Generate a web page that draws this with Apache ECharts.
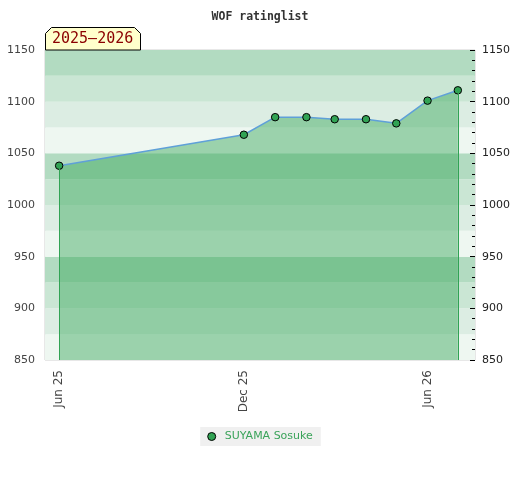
<!DOCTYPE html>
<html>
<head>
<meta charset="utf-8">
<script src="https://cdn.jsdelivr.net/npm/echarts@6/dist/echarts.min.js"></script>
<style>
    html, body { margin: 0; padding: 0; background: #fff; }
    #chart { width: 520px; height: 480px; }
</style>
</head>
<body>
<div id="chart"></div>
<script>
// rating history, one point per month
const dates = ['2025-06-01', '2025-12-01', '2026-01-01', '2026-02-01', '2026-03-01',
    '2026-04-01', '2026-05-01', '2026-06-01', '2026-07-01'];
const ratings = [1038, 1068, 1085, 1085, 1083, 1083, 1079, 1101, 1111];
const playerName = 'SUYAMA Sosuke';
const seasonTag = '2025–2026';

const yMin = 850;
const yMax = 1150;
const xMin = '2025-05-18';
const xMax = '2026-07-18';
const xLabelDates = ['2025-06-01', '2025-12-01', '2026-06-01'];
const bandColors = ['#eef7f1', '#dcede3', '#cae6d4', '#b2dbc1'];

const months = ['Jan', 'Feb', 'Mar', 'Apr', 'May', 'Jun', 'Jul', 'Aug', 'Sep', 'Oct', 'Nov', 'Dec'];

function toTime(s) {
    const p = s.split('-');
    return new Date(+p[0], +p[1] - 1, +p[2]).getTime();
}

const green = '#31a354';
const seriesData = dates.map((d, i) => [toTime(d), ratings[i]]);
const first = seriesData[0];
const last = seriesData[seriesData.length - 1];

const chart = echarts.init(document.getElementById('chart'));

const plainNumber = v => String(v);

const option = {
    animation: false,
    backgroundColor: '#fff',
    title: {
        text: 'WOF ratinglist',
        left: 'center',
        top: 6,
        textStyle: {
            fontFamily: 'DejaVu Sans Mono',
            fontSize: 11.5,
            fontWeight: 'bold',
            color: '#333'
        }
    },
    grid: {
        left: 45,
        right: 45,
        top: 50,
        bottom: 120,
        show: true,
        backgroundColor: 'transparent',
        borderColor: '#d0d0d0',
        borderWidth: 1
    },
    legend: {
        left: 'center',
        top: 427,
        icon: 'circle',
        itemWidth: 8,
        itemHeight: 8,
        backgroundColor: '#f0f0f0',
        padding: [4, 8, 4, 7],
        itemStyle: { color: green, borderColor: '#000', borderWidth: 1 },
        textStyle: {
            color: '#3aa35a',
            fontFamily: 'DejaVu Sans',
            fontSize: 11,
            padding: [0, 0, 0, 4]
        },
        data: [playerName]
    },
    xAxis: {
        // timestamps on a plain value axis so the three labels can be placed by date
        type: 'value',
        min: toTime(xMin),
        max: toTime(xMax),
        axisLine: { show: false },
        axisTick: { show: false },
        splitLine: { show: false },
        axisLabel: {
            customValues: xLabelDates.map(toTime),
            rotate: 90,
            margin: 10,
            color: '#444',
            fontFamily: 'DejaVu Sans',
            fontSize: 12,
            formatter: function (v) {
                const d = new Date(v);
                return months[d.getMonth()] + ' ' + String(d.getFullYear()).slice(2);
            }
        }
    },
    yAxis: [
        {
            type: 'value',
            position: 'left',
            min: yMin,
            max: yMax,
            interval: 50,
            axisLine: { show: false },
            axisTick: { show: false },
            splitLine: { show: false },
            axisLabel: {
                margin: 10,
                color: '#444',
                fontFamily: 'DejaVu Sans',
                fontSize: 11,
                formatter: plainNumber
            }
        },
        {
            type: 'value',
            position: 'right',
            min: yMin,
            max: yMax,
            interval: 50,
            axisLine: { show: false },
            axisTick: { show: true, inside: true, length: 5, lineStyle: { color: '#000' } },
            minorTick: { show: true, splitNumber: 5, length: 3, lineStyle: { color: '#000' } },
            splitLine: { show: false },
            minorSplitLine: { show: false },
            axisLabel: {
                margin: 7,
                color: '#222',
                fontFamily: 'DejaVu Sans',
                fontSize: 11,
                formatter: plainNumber
            }
        },
        {
            // only used for the 25-point background bands
            type: 'value',
            position: 'left',
            min: yMin,
            max: yMax,
            interval: 25,
            axisLine: { show: false },
            axisTick: { show: false },
            axisLabel: { show: false },
            splitLine: { show: false },
            splitArea: { show: true, areaStyle: { color: bandColors } }
        }
    ],
    graphic: [
        {
            type: 'polygon',
            shape: { points: [[45.5, 50], [45.5, 33.5], [51.5, 27.5], [134.5, 27.5], [140.5, 33.5], [140.5, 50]] },
            style: { fill: '#ffffcc', stroke: '#000', lineWidth: 1 },
            z: 10
        },
        {
            type: 'text',
            left: 52,
            top: 32,
            style: {
                text: seasonTag,
                fill: '#8b0000',
                font: '15px "DejaVu Sans Mono"'
            },
            z: 11
        }
    ],
    series: [
        {
            name: playerName,
            type: 'line',
            data: seriesData,
            symbol: 'circle',
            symbolSize: 7.5,
            showSymbol: true,
            itemStyle: { color: green, borderColor: '#000', borderWidth: 1 },
            lineStyle: { color: '#5fa0d8', width: 1.5 },
            areaStyle: { color: green, opacity: 0.44, origin: 'start' },
            markLine: {
                silent: true,
                symbol: 'none',
                label: { show: false },
                lineStyle: { color: green, width: 1, type: 'solid' },
                data: [
                    [{ coord: [first[0], first[1]] }, { coord: [first[0], yMin] }],
                    [{ coord: [last[0], last[1]] }, { coord: [last[0], yMin] }]
                ]
            },
            z: 3
        }
    ]
};

chart.setOption(option);
</script>
</body>
</html>
